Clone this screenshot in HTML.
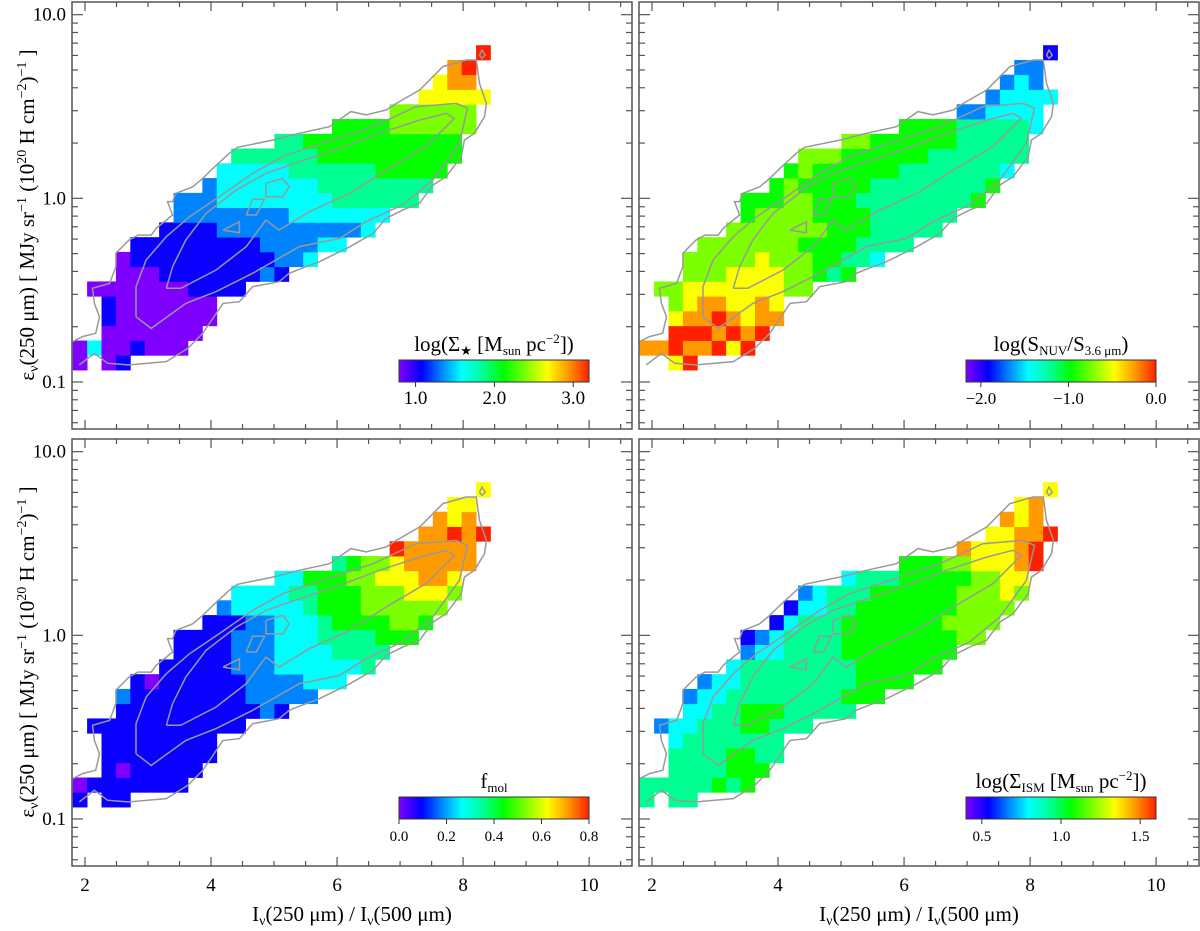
<!DOCTYPE html>
<html><head><meta charset="utf-8"><style>
html,body{margin:0;padding:0;background:#fff;}
svg{display:block;font-family:"Liberation Serif",serif;}
</style></head><body>
<svg id="fig" xmlns="http://www.w3.org/2000/svg" width="1200" height="931" viewBox="0 0 1200 931">
<defs>
<linearGradient id="rainbow" x1="0" x2="1" y1="0" y2="0">
<stop offset="0" stop-color="rgb(127,0,255)"/><stop offset="0.12" stop-color="rgb(0,0,255)"/><stop offset="0.22" stop-color="rgb(0,128,255)"/><stop offset="0.33" stop-color="rgb(0,255,255)"/><stop offset="0.44" stop-color="rgb(0,255,153)"/><stop offset="0.55" stop-color="rgb(0,255,0)"/><stop offset="0.67" stop-color="rgb(128,255,0)"/><stop offset="0.78" stop-color="rgb(255,255,0)"/><stop offset="0.89" stop-color="rgb(255,153,0)"/><stop offset="1" stop-color="rgb(255,32,0)"/>
</linearGradient>
</defs>
<g id="layer"></g>
<text transform="translate(34,215) rotate(-90)" text-anchor="middle" font-size="21">ε<tspan font-size="14" baseline-shift="-4">ν</tspan>(250 μm) [ MJy sr<tspan font-size="14" baseline-shift="8">−1</tspan> (10<tspan font-size="14" baseline-shift="8">20</tspan> H cm<tspan font-size="14" baseline-shift="8">−2</tspan>)<tspan font-size="14" baseline-shift="8">−1</tspan> ]</text>
<text transform="translate(34,652) rotate(-90)" text-anchor="middle" font-size="21">ε<tspan font-size="14" baseline-shift="-4">ν</tspan>(250 μm) [ MJy sr<tspan font-size="14" baseline-shift="8">−1</tspan> (10<tspan font-size="14" baseline-shift="8">20</tspan> H cm<tspan font-size="14" baseline-shift="8">−2</tspan>)<tspan font-size="14" baseline-shift="8">−1</tspan> ]</text>
<text x="352" y="921" text-anchor="middle" font-size="21">I<tspan font-size="14" baseline-shift="-4">ν</tspan>(250 μm) / I<tspan font-size="14" baseline-shift="-4">ν</tspan>(500 μm)</text>
<text x="919" y="921" text-anchor="middle" font-size="21">I<tspan font-size="14" baseline-shift="-4">ν</tspan>(250 μm) / I<tspan font-size="14" baseline-shift="-4">ν</tspan>(500 μm)</text>
<text x="494" y="351" text-anchor="middle" font-size="21">log(Σ<tspan font-size="13" baseline-shift="-4">★</tspan> [M<tspan font-size="13" baseline-shift="-4">sun</tspan> pc<tspan font-size="13" baseline-shift="8">−2</tspan>])</text>
<text x="1061" y="351" text-anchor="middle" font-size="21">log(S<tspan font-size="13" baseline-shift="-4">NUV</tspan>/S<tspan font-size="13" baseline-shift="-4">3.6 μm</tspan>)</text>
<text x="494" y="788" text-anchor="middle" font-size="21">f<tspan font-size="13" baseline-shift="-4">mol</tspan></text>
<text x="1061" y="788" text-anchor="middle" font-size="21">log(Σ<tspan font-size="13" baseline-shift="-4">ISM</tspan> [M<tspan font-size="13" baseline-shift="-4">sun</tspan> pc<tspan font-size="13" baseline-shift="8">−2</tspan>])</text>
</svg>
<script>
// ---- data ----
const xTicks = [2, 4, 6, 8, 10];
const xTickLabels = ["2", "4", "6", "8", "10"];
const yTicksLog = [-1, 0, 1];
const yTickLabels = ["0.1", "1.0", "10.0"];
const xBinStart = 1.805, xBinWidth = 0.2286;
const yBinStartLog = -0.935, yBinHeightLog = 0.0804;
const gridStellar = ["0.01","03001000","..0000000","..10000000","..10000000",".00000001111","...000111111121","...01111111111223","....111111111222233","......111122222222223",".......222222223333333",".......22233333333444444",".........2333333344444444","..........3333344444455555","...........4444445555555555","..............4455555555555","..................5555666666","......................666666","........................77777",".........................788","..........................89","............................9"];
const gridNuv = ["..79","88988979","..9998989","..78898788","..67887787",".66777777766","...666777766545","...66666766655443","....666666655554444","......666666655544444",".......566665555444444",".......55566555444444445",".........5655555444444445","..........5655555544444443","...........6665555554444444","..............6655555544444","..................5555444443","......................223333","........................23333",".........................232","..........................22","............................1"];
const gridFmol = ["1.11","01111111","..1011111","..11111111","..11111111",".11111111111","...111111111121","...21111111122222","....101111112222333","......111112223333334",".......111122233334444",".......11112223334444555",".........1112233345555665","..........2333334555666666","...........3333445556667776","..............3355566777887","..................4566788888","......................988888","........................88989",".........................878","..........................77","............................7"];
const gridIsm = ["4.44","44444545","..4444555","..44445544","..34444444",".23344455444","...334455544444","...23344444444555","....233444444445555","......344444444555555",".......233444455555555",".......12344445555555566",".........1344455555556666","..........1334455555556666","...........2344455555566676","..............3444555556677","..................5556677789","......................877789","........................77889",".........................878","..........................78","............................7"];
const contourOuter = [[1.91,-0.907],[2.15,-0.844],[2.36,-0.898],[2.70,-0.907],[3.29,-0.889],[3.63,-0.817],[3.87,-0.735],[4.19,-0.572],[4.45,-0.563],[4.66,-0.481],[5.08,-0.454],[5.24,-0.408],[5.51,-0.372],[5.72,-0.345],[6.20,-0.264],[6.57,-0.191],[6.78,-0.109],[7.04,-0.064],[7.31,-0.027],[7.52,0.072],[7.73,0.118],[7.97,0.227],[8.02,0.317],[8.18,0.354],[8.34,0.444],[8.37,0.517],[8.26,0.626],[8.21,0.753],[8.05,0.753],[7.68,0.717],[7.31,0.590],[6.94,0.517],[6.78,0.481],[6.46,0.454],[6.22,0.472],[5.88,0.390],[5.40,0.354],[4.98,0.317],[4.42,0.278],[4.29,0.245],[4.03,0.163],[3.87,0.109],[3.71,0.063],[3.44,0.027],[3.39,-0.018],[3.31,-0.018],[3.39,-0.091],[3.13,-0.163],[3.05,-0.200],[2.84,-0.200],[2.70,-0.227],[2.49,-0.299],[2.49,-0.372],[2.39,-0.463],[2.12,-0.490],[2.15,-0.572],[2.23,-0.645],[2.17,-0.735],[1.96,-0.753],[1.80,-0.781]];
const contourMid = [[2.81,-0.645],[3.05,-0.708],[3.60,-0.572],[4.08,-0.508],[4.66,-0.408],[5.40,-0.263],[6.04,-0.218],[6.46,-0.127],[7.04,-0.036],[7.52,0.100],[7.94,0.299],[8.07,0.490],[7.89,0.517],[7.25,0.499],[6.57,0.390],[5.93,0.317],[5.14,0.227],[4.66,0.136],[4.13,0.009],[3.66,-0.100],[3.29,-0.209],[2.97,-0.336],[2.81,-0.481],[2.81,-0.645]];
const contourInner = [[3.29,-0.490],[3.52,-0.490],[4.08,-0.390],[4.56,-0.263],[4.87,-0.118],[5.08,-0.173],[5.56,-0.073],[6.20,0.027],[6.78,0.154],[7.41,0.281],[7.86,0.435],[7.73,0.463],[7.31,0.426],[6.67,0.354],[6.04,0.272],[5.40,0.199],[4.87,0.136],[4.40,0.045],[3.92,-0.082],[3.60,-0.227],[3.39,-0.372],[3.29,-0.490]];
const islandA = [[4.19,-0.173],[4.45,-0.127],[4.45,-0.187],[4.19,-0.173]];
const islandB = [[4.56,-0.091],[4.66,-0.005],[4.85,-0.005],[4.72,-0.091],[4.56,-0.091]];
const islandC = [[4.87,0.082],[5.14,0.109],[5.24,0.063],[5.14,0.009],[4.87,0.009],[4.87,0.082]];
const islandD = [[8.26,0.780],[8.30,0.807],[8.35,0.780],[8.30,0.762],[8.26,0.780]];
const cbarStellarTicks = [1.0, 2.0, 3.0], cbarStellarLabels = ["1.0","2.0","3.0"];
const cbarNuvTicks = [-2.0, -1.0, 0.0], cbarNuvLabels = ["−2.0","−1.0","0.0"];
const cbarFmolTicks = [0.0, 0.2, 0.4, 0.6, 0.8], cbarFmolLabels = ["0.0","0.2","0.4","0.6","0.8"];
const cbarIsmTicks = [0.5, 1.0, 1.5], cbarIsmLabels = ["0.5","1.0","1.5"];

// ---- layout ----
const xMin = 1.794, xMax = 10.68, lyMin = -1.256, lyMax = 1.069;
const panels = [
 {id:"stellar", left:72, top:2, w:560, h:427, grid:gridStellar, vmin:0.79, vmax:3.2, ticks:cbarStellarTicks, labels:cbarStellarLabels, ylab:true, xlab:false, lfs:19},
 {id:"nuv", left:639, top:2, w:560, h:427, grid:gridNuv, vmin:-2.17, vmax:0.0, ticks:cbarNuvTicks, labels:cbarNuvLabels, ylab:false, xlab:false, lfs:17},
 {id:"fmol", left:72, top:439, w:560, h:427, grid:gridFmol, vmin:0.0, vmax:0.8, ticks:cbarFmolTicks, labels:cbarFmolLabels, ylab:true, xlab:true, lfs:15},
 {id:"ism", left:639, top:439, w:560, h:427, grid:gridIsm, vmin:0.4, vmax:1.6, ticks:cbarIsmTicks, labels:cbarIsmLabels, ylab:false, xlab:true, lfs:15}
];
const NS = "http://www.w3.org/2000/svg";
const layer = document.getElementById("layer");
const stops = [[0,[127,0,255]],[0.12,[0,0,255]],[0.22,[0,128,255]],[0.33,[0,255,255]],[0.44,[0,255,153]],[0.55,[0,255,0]],[0.67,[128,255,0]],[0.78,[255,255,0]],[0.89,[255,153,0]],[1,[255,32,0]]];
function cmap(t){
  t = Math.max(0, Math.min(1, t));
  for (let i = 1; i < stops.length; i++) {
    if (t <= stops[i][0]) {
      const a = stops[i-1], b = stops[i], f = (t - a[0]) / (b[0] - a[0]);
      const c = a[1].map((v, k) => Math.round(v + (b[1][k] - v) * f));
      return "rgb(" + c.join(",") + ")";
    }
  }
  return "rgb(255,32,0)";
}
function mk(tag, parent){ const e = document.createElementNS(NS, tag); parent.appendChild(e); return e; }

panels.forEach(p => {
  const sx = x => p.left + (x - xMin) / (xMax - xMin) * p.w;
  const sy = ly => p.top + (lyMax - ly) / (lyMax - lyMin) * p.h;
  const g = mk("g", layer);
  
  
  // heatmap
  const hm = mk("g", g);
  
  
  p.grid.forEach((row, r) => {
    for (let c = 0; c < row.length; c++) {
      const ch = row[c];
      if (ch === ".") continue;
      const level = parseInt(ch, 10);
      const value = p.vmin + level / 9 * (p.vmax - p.vmin);
      const x0 = sx(xBinStart + c * xBinWidth), x1 = sx(xBinStart + (c + 1) * xBinWidth);
      const y1 = sy(yBinStartLog + r * yBinHeightLog), y0 = sy(yBinStartLog + (r + 1) * yBinHeightLog);
      const rc = mk("rect", hm);
      
      
      rc.setAttribute("x", x0.toFixed(2)); rc.setAttribute("y", y0.toFixed(2));
      rc.setAttribute("width", (x1 - x0 + 0.4).toFixed(2)); rc.setAttribute("height", (y1 - y0 + 0.4).toFixed(2));
      rc.setAttribute("fill", cmap((value - p.vmin) / (p.vmax - p.vmin)));
    }
  });
  // contours
  [contourOuter, contourMid, contourInner, islandA, islandB, islandC, islandD].forEach((pts, i) => {
    const pl = mk("polyline", g);
    
    
    pl.setAttribute("points", pts.map(q => sx(q[0]).toFixed(1) + "," + sy(q[1]).toFixed(1)).join(" "));
    pl.setAttribute("fill", "none"); pl.setAttribute("stroke", "#999"); pl.setAttribute("stroke-width", "1.5");
  });
  // frame
  const fr = mk("rect", g);
  
  
  fr.setAttribute("x", p.left); fr.setAttribute("y", p.top); fr.setAttribute("width", p.w); fr.setAttribute("height", p.h);
  fr.setAttribute("fill", "none"); fr.setAttribute("stroke", "#555"); fr.setAttribute("stroke-width", "1.5");
  // x ticks
  const tk = mk("g", g);
  
  
  tk.setAttribute("stroke", "#555"); tk.setAttribute("stroke-width", "1.2");
  for (let v = 2; v <= 10.5; v += 0.5) {
    const len = (xTicks.indexOf(v) >= 0) ? 9 : 5, X = sx(v);
    [[p.top + p.h, -len], [p.top, len]].forEach(([y, d]) => {
      const l = mk("line", tk);
      
      
      l.setAttribute("x1", X); l.setAttribute("x2", X); l.setAttribute("y1", y); l.setAttribute("y2", y + d);
    });
  }
  for (let d = -2; d <= 1; d++) {
    for (let k = 1; k <= 9; k++) {
      const ly = d + Math.log10(k);
      if (ly < lyMin || ly > lyMax) continue;
      const len = k === 1 ? 11 : 6, Y = sy(ly);
      [[p.left, len], [p.left + p.w, -len]].forEach(([x, dd]) => {
        const l = mk("line", tk);
        
        
        l.setAttribute("x1", x); l.setAttribute("x2", x + dd); l.setAttribute("y1", Y); l.setAttribute("y2", Y);
      });
    }
  }
  if (p.ylab) {
    yTicksLog.forEach((ly, i) => {
      const t = mk("text", g);
      
      
      t.setAttribute("x", p.left - 6); t.setAttribute("y", sy(ly) + 6);
      t.setAttribute("text-anchor", "end"); t.setAttribute("font-size", "19");
      t.textContent = yTickLabels[i];
    });
  }
  if (p.xlab) {
    xTicks.forEach((v, i) => {
      const t = mk("text", g);
      
      
      t.setAttribute("x", sx(v)); t.setAttribute("y", p.top + p.h + 25);
      t.setAttribute("text-anchor", "middle"); t.setAttribute("font-size", "19");
      t.textContent = xTickLabels[i];
    });
  }
  // colorbar
  const cbx = p.left + 327, cbw = 190, cby = p.top + 358, cbh = 22;
  const cb = mk("rect", g);
  
  
  cb.setAttribute("x", cbx); cb.setAttribute("y", cby); cb.setAttribute("width", cbw); cb.setAttribute("height", cbh);
  cb.setAttribute("fill", "url(#rainbow)"); cb.setAttribute("stroke", "#333"); cb.setAttribute("stroke-width", "1");
  p.ticks.forEach((v, i) => {
    const X = cbx + (v - p.vmin) / (p.vmax - p.vmin) * cbw;
    const l = mk("line", g);
    
    
    l.setAttribute("x1", X); l.setAttribute("x2", X); l.setAttribute("y1", cby + cbh); l.setAttribute("y2", cby + cbh + 5);
    l.setAttribute("stroke", "#333");
    const t = mk("text", g);
    
    
    t.setAttribute("x", X); t.setAttribute("y", cby + cbh + 22);
    t.setAttribute("text-anchor", "middle"); t.setAttribute("font-size", p.lfs);
    t.textContent = p.labels[i];
  });
});
</script>
</body></html>
